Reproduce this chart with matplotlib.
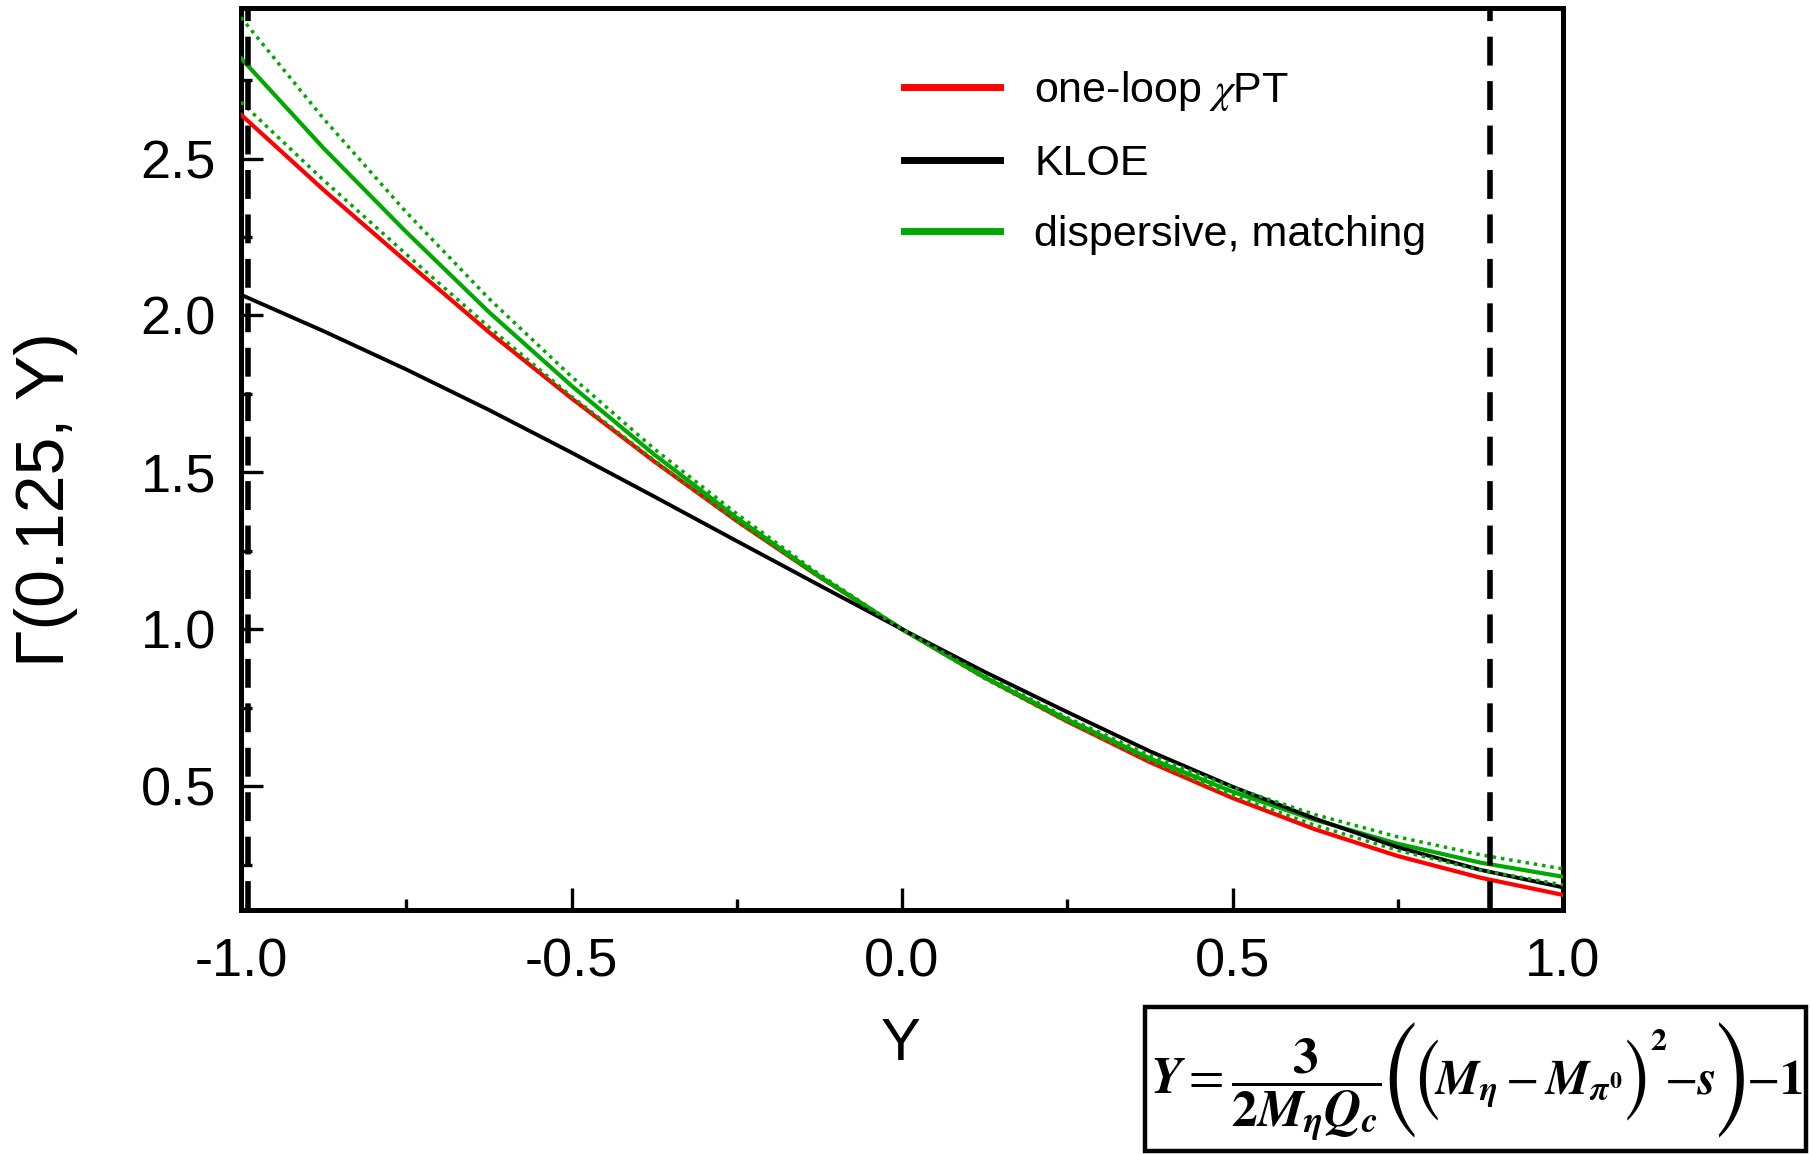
import numpy as np
import matplotlib.pyplot as plt
from matplotlib.lines import Line2D
from matplotlib.patches import Rectangle

# Gamma(X=0.125, Y) along the Y axis
y_vals = [-1.0, -0.875, -0.75, -0.625, -0.5, -0.375, -0.25, -0.125, 0.0,
          0.125, 0.25, 0.375, 0.5, 0.625, 0.75, 0.875, 1.0]
gamma_chpt = [2.64, 2.40, 2.172, 1.947, 1.736, 1.535, 1.345, 1.167, 1.0,
              0.846, 0.706, 0.576, 0.462, 0.362, 0.277, 0.208, 0.153]
gamma_kloe = [2.066, 1.950, 1.828, 1.699, 1.563, 1.423, 1.281, 1.140, 1.0,
              0.864, 0.736, 0.611, 0.498, 0.396, 0.305, 0.233, 0.177]
gamma_disp = [2.82, 2.533, 2.266, 2.011, 1.776, 1.557, 1.355, 1.169, 1.0,
              0.847, 0.712, 0.588, 0.482, 0.392, 0.316, 0.256, 0.211]
gamma_disp_hi = [2.95, 2.627, 2.329, 2.054, 1.805, 1.575, 1.368, 1.175, 1.0,
                 0.852, 0.718, 0.598, 0.496, 0.409, 0.338, 0.281, 0.236]
gamma_disp_lo = [2.68, 2.431, 2.195, 1.963, 1.742, 1.538, 1.345, 1.165, 1.0,
                 0.843, 0.704, 0.580, 0.470, 0.375, 0.295, 0.232, 0.185]
dalitz_edges = [-0.99, 0.89]

x_ticks = [-1.0, -0.5, 0.0, 0.5, 1.0]
x_minor = [-0.75, -0.25, 0.25, 0.75]
y_ticks = [0.5, 1.0, 1.5, 2.0, 2.5]
y_minor = [0.25, 0.75, 1.25, 1.75, 2.25, 2.75]

labels = ["one-loop $\\chi$PT", "KLOE", "dispersive, matching"]
RED, BLACK, GREEN = "#ff0000", "#000000", "#00a800"

plt.rcParams["font.family"] = ["Liberation Sans", "DejaVu Sans"]
plt.rcParams["mathtext.fontset"] = "stix"
plt.rcParams["axes.unicode_minus"] = False

W, H = 1810, 1154
fig = plt.figure(figsize=(W / 100, H / 100), dpi=100)
ax = fig.add_axes([241 / W, 1 - 910 / H, (1563 - 241) / W, (910 - 8) / H])

ax.plot(y_vals, gamma_chpt, color=RED, lw=3.0, zorder=3)
ax.plot(y_vals, gamma_disp, color=GREEN, lw=3.0, zorder=4)
ax.plot(y_vals, gamma_kloe, color=BLACK, lw=2.8, zorder=5)
for band in (gamma_disp_hi, gamma_disp_lo):
    ax.plot(y_vals, band, color=GREEN, lw=2.5, linestyle=(0, (1, 1.4)), zorder=6)

for edge in dalitz_edges:
    ax.axvline(edge, color="black", lw=4, dashes=(5.2, 2.8), zorder=7)

ax.set_xlim(-1.0, 1.0)
ax.set_ylim(0.105, 2.98)
ax.set_xticks(x_ticks)
ax.set_xticks(x_minor, minor=True)
ax.set_yticks(y_ticks)
ax.set_yticks(y_minor, minor=True)
ax.set_xticklabels([f"{v:.1f}" for v in x_ticks])
ax.set_yticklabels([f"{v:.1f}" for v in y_ticks])
ax.tick_params(which="both", direction="in", width=2.4, labelsize=39)
ax.tick_params(which="major", length=16)
ax.tick_params(which="minor", length=8)
ax.tick_params(axis="x", pad=20)
ax.tick_params(axis="y", pad=18)
for s in ax.spines.values():
    s.set_linewidth(3.6)

fig.text(46 / W, 1 - 500 / H, "\u0393(0.125, Y)", rotation=90,
         ha="center", va="center", fontsize=49)
fig.text(901 / W, 1 - 1045 / H, "Y", ha="center", va="center", fontsize=43)

handles = [Line2D([], [], color=c, lw=5) for c in (RED, BLACK, GREEN)]
ax.legend(handles, labels, loc="upper left", bbox_to_anchor=(0.5015, 0.9326),
          frameon=False, fontsize=31, handlelength=2.23, handletextpad=0.79,
          labelspacing=0.72, borderpad=0, borderaxespad=0)

# formula box in the lower right corner
fig.patches.append(Rectangle((1145 / W, 3 / H), (1806 - 1145) / W, (1154 - 1007 - 3) / H,
                             transform=fig.transFigure, fill=False,
                             edgecolor="black", lw=3.2))
base = 1 - 1094 / H
mid = 1 - 1080 / H
big3 = dict(family="STIXSizeThreeSym", weight="bold", va="center", fontsize=34)
big2 = dict(family="STIXSizeTwoSym", weight="bold", va="center", fontsize=32)
plain = dict(va="baseline", fontsize=35)
# (text, baseline/centre y, style, kern to the next piece in px)
pieces = [
    (r"$\mathbfit{Y} = \dfrac{\mathbf{3}}{\mathbf{2}\mathbfit{M}_{\mathbfit{\eta}}\mathbfit{Q}_{\mathbfit{c}}}$",
     base, dict(va="baseline", fontsize=37), 0),
    ("(", mid, big3, -3),
    ("(", mid, big2, -7),
    (r"$\mathbfit{M}_{\mathbfit{\eta}} - \mathbfit{M}_{\mathbfit{\pi}^{\mathbf{0}}}$", base, plain, 0),
    (")", mid, big2, 0),
    (r"$\mathbf{2}$", 1 - 1050 / H, dict(va="baseline", fontsize=23), -3),
    (r"$-\mathbfit{s}$", base, plain, 0),
    (")", mid, big3, -5),
    (r"$-\mathbf{1}$", base, plain, 0),
]
renderer = fig.canvas.get_renderer()
x = 1150
for txt, y, kw, kern in pieces:
    t = fig.text(x / W, y, txt, ha="left", **kw)
    x = t.get_window_extent(renderer).x1 + kern

fig.savefig("out.png", dpi=100)
